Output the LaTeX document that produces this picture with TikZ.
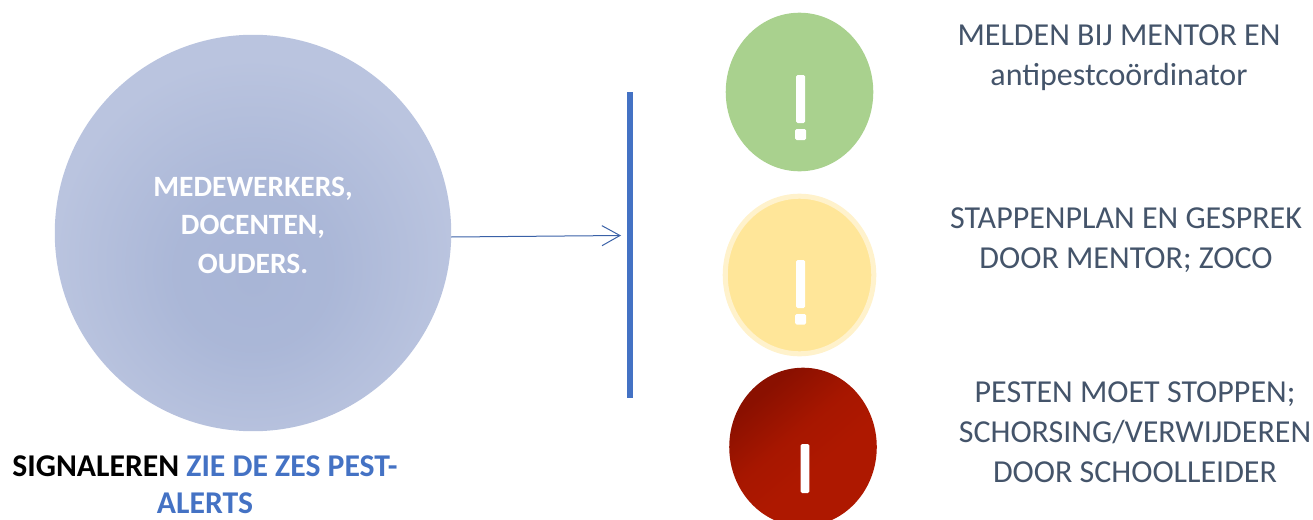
\documentclass[tikz,border=0pt]{standalone}
\usepackage{fontspec}
\setmainfont{Carlito}
\usetikzlibrary{arrows.meta,shapes.geometric}
\definecolor{slate}{HTML}{44546A}
\definecolor{accent}{HTML}{4472C4}
\definecolor{bigin}{HTML}{A8B5D6}
\definecolor{bigout}{HTML}{BAC4DF}
\definecolor{greenfill}{HTML}{A9D18E}
\definecolor{yellowfill}{HTML}{FFE699}
\definecolor{yellowedge}{HTML}{FFF2CC}
\definecolor{reddark}{HTML}{8A1000}
\definecolor{redlight}{HTML}{AE1800}
\pgfdeclareradialshading{bigshade}{\pgfpoint{0bp}{-6bp}}{color(0bp)=(bigin); color(10bp)=(bigin!85!bigout); color(25bp)=(bigout); color(50bp)=(bigout)}
\pgfdeclareverticalshading{redshade}{100bp}{color(0bp)=(redlight); color(42bp)=(redlight); color(55bp)=(redlight!80!reddark); color(72bp)=(reddark); color(100bp)=(reddark)}
\tikzset{
  x=1pt,y=-1pt,
  lamp/.style={ellipse,minimum width=147bp,minimum height=158bp,inner sep=0pt,outer sep=0pt},
  bartxt/.style={slate,font=\fontsize{32}{40}\selectfont,align=center},
  mark bar/.style={fill=white,rounded corners=1.5pt},
}
\begin{document}
\begin{tikzpicture}
\useasboundingbox (0,0) rectangle (1313,519);
\clip (0,0) rectangle (1313,519);
% large circle
\node[circle,minimum size=395bp,inner sep=0pt,outer sep=0pt,shading=bigshade] (big) at (253,233) {};
\node[white,font=\fontsize{29.5}{38.5}\selectfont\bfseries,align=center] (who) at (253,225) {MEDEWERKERS,\\DOCENTEN,\\OUDERS.};
% divider
\coordinate (bartop) at (630,92);
\coordinate (barbot) at (630,398);
\draw[accent,line width=5.5bp] (bartop) -- (barbot);
% connector
\coordinate (arrowend) at (621,235.5);
\draw[accent!85!black,line width=1pt,-{Straight Barb[length=18bp,width=20bp,line width=1pt]}] (big.east |- 0,237) -- (arrowend);
% lamps
\node[lamp,fill=greenfill] (green) at (799.5,92) {};
\node[lamp,fill=yellowfill,draw=yellowedge,line width=5bp,minimum width=148bp,minimum height=157bp] (yellow) at (799.5,275) {};
\node[lamp,shading=redshade,shading angle=40] (red) at (803,447) {};
% exclamation marks
\fill[mark bar] (796,75) rectangle (805,123);
\fill[mark bar] (795,129) rectangle (806,140);
\fill[mark bar] (796,260) rectangle (805,308);
\fill[mark bar] (795,314) rectangle (806,324.5);
\fill[mark bar] (800.7,444) rectangle (809.3,493);
% labels
\node[bartxt] (t1) at (1119,58) {MELDEN BIJ MENTOR EN\\antipestcoördinator};
\node[bartxt] (t2) at (1126,240) {STAPPENPLAN EN GESPREK\\DOOR MENTOR; ZOCO};
\node[bartxt] (t3) at (1135,432) {PESTEN MOET STOPPEN;\\SCHORSING/VERWIJDEREN\\DOOR SCHOOLLEIDER};
\node[font=\fontsize{31.7}{37}\selectfont\bfseries,align=center,inner sep=0pt] (sig) at (205,485) {SIGNALEREN {\color{accent}ZIE DE ZES PEST-}\\{\color{accent}ALERTS}};
\end{tikzpicture}
\end{document}
